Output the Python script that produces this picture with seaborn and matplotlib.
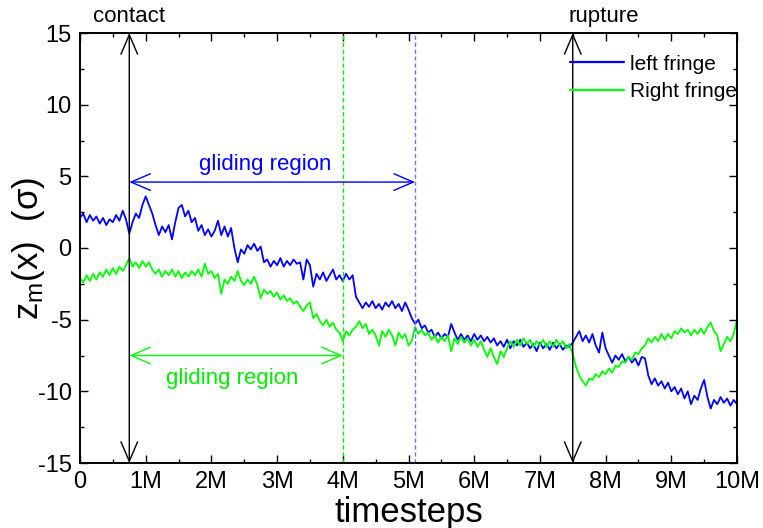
import numpy as np
import pandas as pd
import matplotlib
matplotlib.use("Agg")
import matplotlib.pyplot as plt
import seaborn as sns

# sampling interval of the recorded traces (timesteps)
sample_step = 50_000

# z_m(x) of the left fringe, one value per sample, 0 .. 10M
left_fringe = [
    2.1, 2.4, 1.8, 2.3, 1.9, 2.2, 1.7, 2.1, 1.6, 2.0,
    1.8, 2.3, 1.9, 2.6, 2.0, 1.0, 1.8, 2.4, 2.1, 3.0,
    3.6, 3.0, 2.4, 1.6, 0.9, 1.5, 1.1, 1.6, 0.6, 1.8,
    2.8, 3.0, 2.2, 2.6, 1.8, 2.1, 1.2, 1.6, 0.9, 1.3,
    0.8, 1.2, 1.9, 0.9, 1.5, 0.8, 1.4, 0.0, -1.0, -0.1,
    -0.4, 0.2, -0.1, 0.3, -0.2, 0.1, -1.0, -0.8, -1.3, -0.9,
    -1.2, -0.7, -1.3, -0.9, -1.2, -0.8, -1.1, -1.0, -2.2, -0.8,
    -1.2, -2.7, -1.8, -2.2, -1.7, -2.3, -1.9, -1.5, -2.2, -1.9,
    -2.3, -1.8, -2.2, -1.9, -3.4, -3.8, -4.2, -3.8, -4.1, -3.7,
    -4.2, -3.9, -4.3, -3.8, -4.1, -3.7, -4.2, -3.9, -4.4, -3.8,
    -4.3, -4.9, -5.3, -5.0, -5.6, -5.4, -5.9, -5.7, -6.2, -5.9,
    -6.3, -6.0, -6.2, -5.3, -5.9, -6.4, -6.0, -6.4, -6.1, -6.5,
    -6.0, -6.4, -6.1, -6.5, -6.2, -6.6, -6.3, -6.8, -6.5, -6.9,
    -6.4, -7.0, -6.5, -6.8, -6.4, -6.9, -6.6, -7.0, -6.7, -7.2,
    -6.6, -7.0, -6.7, -7.1, -6.6, -7.0, -6.7, -7.1, -6.8, -6.9,
    -6.6, -6.2, -5.8, -6.5, -6.1, -6.6, -6.0, -6.8, -7.3, -5.9,
    -7.0, -7.5, -8.0, -7.5, -7.8, -7.4, -7.9, -7.6, -8.0, -7.7,
    -8.2, -7.6, -7.7, -8.9, -9.5, -9.1, -9.6, -9.3, -9.8, -9.4,
    -10.0, -9.7, -10.2, -9.8, -10.5, -10.0, -10.9, -10.3, -10.6, -9.8,
    -9.2, -10.4, -11.2, -10.6, -10.9, -10.4, -10.8, -10.5, -11.0, -10.6,
    -10.9,
]

# z_m(x) of the right fringe, same sampling
right_fringe = [
    -2.1, -2.4, -1.9, -2.3, -1.8, -2.2, -1.7, -2.0, -1.5, -1.9,
    -1.4, -1.8, -1.3, -1.6, -1.2, -0.7, -1.3, -1.0, -1.4, -0.9,
    -1.3, -1.0, -1.5, -1.8, -1.5, -2.0, -1.6, -1.9, -1.5, -2.0,
    -1.6, -2.1, -1.7, -2.0, -1.6, -1.9, -1.5, -2.0, -1.1, -1.8,
    -1.6, -2.1, -1.8, -3.2, -2.2, -2.5, -2.0, -2.3, -1.6, -2.3,
    -2.6, -2.2, -2.5, -2.0, -2.6, -3.5, -2.9, -3.2, -3.0, -3.4,
    -3.1, -3.6, -3.3, -3.7, -3.5, -3.9, -3.7, -4.1, -4.4, -4.0,
    -3.8, -4.9, -4.6, -5.1, -5.4, -5.0, -5.5, -5.2, -5.7, -5.9,
    -6.5, -5.8, -6.1, -5.7, -5.5, -5.1, -5.6, -5.3, -6.0, -5.7,
    -6.1, -6.8, -5.8, -6.2, -5.7, -6.1, -6.8, -5.9, -6.3, -6.0,
    -6.8, -6.5, -5.5, -6.0, -5.7, -6.1, -5.9, -6.4, -6.1, -6.6,
    -6.2, -6.5, -6.1, -7.2, -6.3, -6.7, -6.2, -6.6, -6.3, -6.8,
    -6.4, -6.9, -6.5, -7.1, -7.6, -7.0, -7.6, -8.1, -7.2, -7.6,
    -7.0, -6.5, -6.9, -6.4, -6.8, -6.3, -6.7, -6.4, -6.9, -6.5,
    -6.8, -6.4, -6.9, -6.5, -6.9, -6.4, -6.8, -6.5, -7.0, -6.7,
    -7.4, -8.3, -8.9, -9.3, -9.6, -9.1, -9.2, -8.8, -9.0, -8.6,
    -8.8, -8.4, -8.7, -8.2, -8.3, -7.9, -8.0, -7.6, -7.8, -7.3,
    -7.4, -7.0, -6.8, -6.3, -6.6, -6.2, -6.5, -6.0, -6.4, -6.0,
    -6.3, -5.8, -6.0, -5.6, -5.9, -5.7, -6.1, -5.7, -6.0, -5.6,
    -6.0, -5.5, -5.2, -5.8, -6.1, -7.2, -6.7, -6.2, -6.5, -6.0,
    -5.0,
]

series_names = ["left fringe", "Right fringe"]
series_colors = ["#0000ff", "#00ff00"]

# event markers (timesteps)
contact_step = 750_000
rupture_step = 7_500_000
gliding_end_left = 5_100_000
gliding_end_right = 4_000_000

x_ticks = [0, 1e6, 2e6, 3e6, 4e6, 5e6, 6e6, 7e6, 8e6, 9e6, 10e6]
x_tick_labels = ["0", "1M", "2M", "3M", "4M", "5M", "6M", "7M", "8M", "9M", "10M"]
y_ticks = [-15, -10, -5, 0, 5, 10, 15]

# long-form table for seaborn
frames = []
for name, vals in zip(series_names, [left_fringe, right_fringe]):
    frames.append(pd.DataFrame({
        "timesteps": np.arange(len(vals)) * sample_step,
        "z": vals,
        "fringe": name,
    }))
df = pd.concat(frames, ignore_index=True)

sns.set_style("ticks")
plt.rcParams["font.family"] = ["Liberation Sans", "DejaVu Sans"]
plt.rcParams["mathtext.fontset"] = "custom"
plt.rcParams["mathtext.rm"] = "Liberation Sans"
plt.rcParams["mathtext.it"] = "Liberation Sans"
plt.rcParams["axes.unicode_minus"] = False
plt.rcParams["text.color"] = "black"
plt.rcParams["axes.labelcolor"] = "black"
plt.rcParams["xtick.color"] = "black"
plt.rcParams["ytick.color"] = "black"

fig = plt.figure(figsize=(7.63, 5.28), dpi=100)
ax = fig.add_axes([80 / 763, 1 - 463 / 528, (737 - 80) / 763, (463 - 33) / 528])

sns.lineplot(data=df, x="timesteps", y="z", hue="fringe",
             palette=dict(zip(series_names, series_colors)),
             estimator=None, linewidth=1.3, ax=ax)

ax.set_xlim(0, 10e6)
ax.set_ylim(-15, 15)
ax.set_xticks(x_ticks)
ax.set_xticklabels(x_tick_labels)
ax.set_yticks(y_ticks)
ax.set_xticks(np.arange(0.5e6, 10e6, 1e6), minor=True)
ax.set_yticks([-12.5, -7.5, -2.5, 2.5, 7.5, 12.5], minor=True)
ax.tick_params(which="both", direction="in", top=True, right=True,
               width=1.0, colors="black", labelcolor="black", labelsize=17, pad=6)
ax.tick_params(which="major", length=6)
ax.tick_params(which="minor", length=3)
for sp in ax.spines.values():
    sp.set_linewidth(1.4)
    sp.set_color("black")
    sp.set_visible(True)

ax.set_xlabel("timesteps", fontsize=25, labelpad=2, color="black")
ax.set_ylabel("z$_{\\rm m}$(x)  (σ)", fontsize=25, color="black")
ax.yaxis.set_label_coords(-0.05, 0.5)

# vertical event lines
ax.axvline(gliding_end_right, color="#00ee00", linewidth=1.0, linestyle=(0, (3, 2)))
ax.axvline(gliding_end_left, color="#6f6fff", linewidth=1.0, linestyle=(0, (3, 2)))

arrow_kw = dict(arrowstyle="<->,head_length=0.7,head_width=0.3",
                shrinkA=0, shrinkB=0, mutation_scale=20, linewidth=1.0)
for step in (contact_step, rupture_step):
    ax.annotate("", xy=(step, -15), xytext=(step, 15),
                arrowprops=dict(color="black", **arrow_kw))

ax.annotate("", xy=(contact_step, 4.6), xytext=(gliding_end_left, 4.6),
            arrowprops=dict(color="#0000ff", **arrow_kw))
ax.annotate("", xy=(contact_step, -7.5), xytext=(gliding_end_right, -7.5),
            arrowprops=dict(color="#00ff00", **arrow_kw))

ax.text(2.82e6, 5.8, "gliding region", color="#0000ff", fontsize=16,
        ha="center", va="center")
ax.text(2.31e6, -9.1, "gliding region", color="#00ee00", fontsize=16,
        ha="center", va="center")

ax.text(contact_step, 15.4, "contact", fontsize=16, ha="center", va="bottom",
        color="black")
ax.text(rupture_step - 0.07e6, 15.4, "rupture", fontsize=16, ha="left", va="bottom",
        color="black")

leg = ax.legend(loc="upper right", bbox_to_anchor=(1.0, 0.95), frameon=False,
                fontsize=15, handlelength=2.6, handletextpad=0.3,
                labelspacing=0.4, borderaxespad=0, borderpad=0)
for line in leg.get_lines():
    line.set_linewidth(1.6)
for txt in leg.get_texts():
    txt.set_color("black")

fig.savefig("out.png", dpi=100)
